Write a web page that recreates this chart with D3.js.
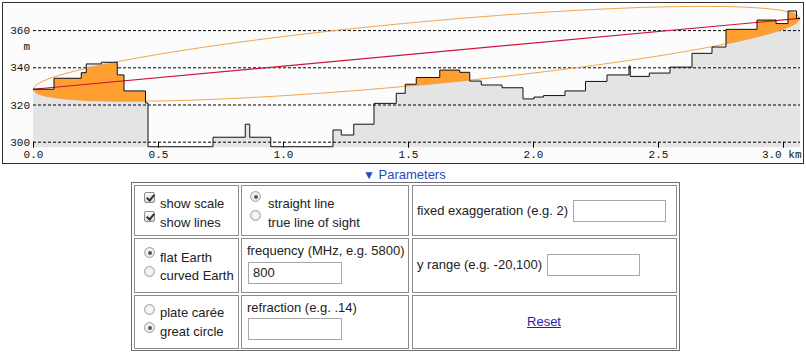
<!DOCTYPE html>
<html>
<head>
<meta charset="utf-8">
<script src="https://cdn.jsdelivr.net/npm/d3@7"></script>
<style>
    body { margin: 0; background: #fff; font-family: "Liberation Sans", Arial, sans-serif; font-size: 13px; color: #222; }
    #chart { position: absolute; left: 0; top: 0; }
    .abs { position: absolute; line-height: 13px; white-space: nowrap; }
    .box { position: absolute; box-sizing: border-box; }
    .outer { border: 1px solid #6f6f6f; }
    .cell { border: 1px solid #8c8c8c; }
    .inp { border: 1px solid #a8a8a8; background: #fff; padding-left: 4px; line-height: 19px; }
    .cb { position: absolute; box-sizing: border-box; width: 11px; height: 11px; border: 1px solid #8e8e8e; border-radius: 2px;
          background: linear-gradient(#fbfbfb, #dadada); }
    .cb::after { content: ""; position: absolute; left: 3px; top: 0px; width: 3px; height: 6px;
          border: solid #333; border-width: 0 2px 2px 0; transform: rotate(40deg); }
    .rd { position: absolute; box-sizing: border-box; width: 11px; height: 11px; border: 1px solid #a4a4a4; border-radius: 50%;
          background: radial-gradient(#f6f6f6 35%, #d6d6d6); }
    .rd.on::after { content: ""; position: absolute; left: 2.5px; top: 2.5px; width: 4px; height: 4px; border-radius: 50%;
          background: #555; }
    .link { color: #2b47c4; }
    .reset { color: #1f1fa8; text-decoration: underline; }
</style>
</head>
<body>
<svg id="chart" width="806" height="166"></svg>
<div id="form"></div>
<script>
// terrain profile, step segments: start distance (km) and elevation (m)
const distKm = [0.000, 0.084, 0.193, 0.213, 0.273, 0.337, 0.364, 0.450, 0.460, 0.720,
                0.849, 0.867, 0.951, 1.200, 1.233, 1.283, 1.364, 1.453, 1.489, 1.533,
                1.627, 1.707, 1.747, 1.793, 1.876, 1.960, 2.004, 2.042, 2.128, 2.210,
                2.296, 2.384, 2.389, 2.465, 2.548, 2.636, 2.716, 2.772, 2.896, 2.972,
                3.020, 3.054];
const elevM = [328.2, 334.1, 337.1, 341.8, 342.7, 335.9, 327.3, 320.8, 297.3, 302.4,
               309.4, 302.4, 297.3, 306.3, 303.6, 309.4, 320.6, 326.0, 330.9, 334.5,
               338.5, 337.3, 332.6, 330.5, 329.0, 323.0, 324.0, 324.8, 327.3, 332.4,
               335.9, 340.7, 335.1, 336.9, 340.1, 347.5, 350.9, 360.4, 365.4, 363.5,
               370.3, 366.3];
const totalKm = 3.068;
const startElev = 328.2;
const endElev = 366.3;
const freqMHz = 800;
const xTicks = [0, 0.5, 1.0, 1.5, 2.0, 2.5, 3.0];
const yTicks = [300, 320, 340, 360];
const yBottom = 297;

const svg = d3.select("#chart");

// box
svg.append("rect")
    .attr("x", 2.5).attr("y", 2.5)
    .attr("width", 801).attr("height", 161)
    .attr("fill", "#fcfcfc")
    .attr("stroke", "#333");

const x = d3.scaleLinear().domain([0, totalKm]).range([33, 800]);
const y = d3.scaleLinear().domain([300, 360]).range([141.7, 30.1]);

let profile = distKm.map((d, i) => ({ d: d, h: elevM[i] }));
profile.push({ d: totalKm, h: elevM[elevM.length - 1] });

const area = d3.area()
    .x(d => x(d.d))
    .y0(y(yBottom))
    .y1(d => y(d.h))
    .curve(d3.curveStepAfter);

const line = d3.line()
    .x(d => x(d.d))
    .y(d => y(d.h))
    .curve(d3.curveStepAfter);

// grey ground
svg.append("path")
    .datum(profile)
    .attr("d", area)
    .attr("fill", "#e4e4e4");

// gridlines + y labels
const yAxis = svg.append("g")
    .attr("transform", "translate(33,0)")
    .call(d3.axisLeft(y).tickValues(yTicks).tickSize(-(x.range()[1] - x.range()[0])).tickPadding(3));
yAxis.select(".domain").remove();
yAxis.selectAll("line")
    .attr("stroke", "#000")
    .attr("stroke-dasharray", "3,2");
yAxis.selectAll("text")
    .attr("font-family", "Liberation Mono, monospace")
    .attr("font-size", 11)
    .attr("fill", "#111");

svg.append("text")
    .attr("x", 30).attr("y", 50)
    .attr("text-anchor", "end")
    .attr("font-family", "Liberation Mono, monospace")
    .attr("font-size", 11)
    .attr("fill", "#111")
    .text("m");

// fresnel zone (first zone, from frequency)
const lambda = 299.792458 / freqMHz;
const Dm = totalKm * 1000;
const samples = d3.range(0, 241).map(i => i / 240 * totalKm);
const zone = samples.map(d => {
    const d1 = d * 1000, d2 = Math.max(Dm - d1, 0);
    const r = Math.sqrt(lambda * d1 * d2 / Dm);
    const c = startElev + (endElev - startElev) * d / totalKm;
    return { d: d, up: c + r, lo: c - r };
});
const ellipsePts = zone.map(z => [x(z.d), y(z.up)])
    .concat(zone.slice().reverse().map(z => [x(z.d), y(z.lo)]));
const ellipsePath = "M" + ellipsePts.map(p => p.join(",")).join("L") + "Z";

svg.append("clipPath").attr("id", "fresnelClip")
    .append("path").attr("d", ellipsePath);

// ground inside the zone
svg.append("path")
    .datum(profile)
    .attr("d", area)
    .attr("fill", "#ff9f30")
    .attr("clip-path", "url(#fresnelClip)");

svg.append("path")
    .attr("d", ellipsePath)
    .attr("fill", "none")
    .attr("stroke", "#f2a24a")
    .attr("stroke-width", 1);

// straight line of sight
svg.append("path")
    .datum([{ d: 0, h: startElev }, { d: totalKm, h: endElev }])
    .attr("d", d3.line().x(d => x(d.d)).y(d => y(d.h)))
    .attr("fill", "none")
    .attr("stroke", "#d0143a")
    .attr("stroke-width", 1.1);

// terrain outline
svg.append("path")
    .datum(profile)
    .attr("d", line)
    .attr("fill", "none")
    .attr("stroke", "#111")
    .attr("stroke-width", 1);

// x axis
const xAxis = svg.append("g")
    .attr("transform", `translate(0,${y(300)})`)
    .call(d3.axisBottom(x).tickValues(xTicks).tickFormat(d3.format(".1f")).tickSize(6).tickPadding(3));
xAxis.select(".domain").remove();
xAxis.selectAll("line").attr("stroke", "#000");
xAxis.selectAll("text")
    .attr("font-family", "Liberation Mono, monospace")
    .attr("font-size", 11)
    .attr("fill", "#111");
xAxis.selectAll(".tick").filter(d => d === 3.0).select("text")
    .attr("text-anchor", "end")
    .attr("x", 801 - x(3.0))
    .text("3.0 km");

// ---- parameters form ----
const form = d3.select("#form");

form.append("div").attr("class", "abs link").style("left", "363px").style("top", "168px")
    .html('<span style="font-size:12px">&#9660;</span> Parameters');

form.append("div").attr("class", "box outer")
    .style("left", "131px").style("top", "182px")
    .style("width", "549px").style("height", "169px");

const colX = [134, 241, 412], colW = [105, 168, 265];
const rowY = [185, 238, 295], rowH = [51, 55, 54];
rowY.forEach((ry, r) => colX.forEach((cx, c) => {
    form.append("div").attr("class", "box cell")
        .style("left", cx + "px").style("top", ry + "px")
        .style("width", colW[c] + "px").style("height", rowH[r] + "px");
}));

const labels = [
    ["show scale", 160, 197], ["show lines", 160, 216],
    ["straight line", 268, 197], ["true line of sight", 268, 216],
    ["fixed exaggeration (e.g. 2)", 417, 204],
    ["flat Earth", 160, 251], ["curved Earth", 160, 269],
    ["frequency (MHz, e.g. 5800)", 247, 244],
    ["y range (e.g. -20,100)", 417, 258],
    ["plate carée", 160, 306], ["great circle", 160, 325],
    ["refraction (e.g. .14)", 247, 301]
];
labels.forEach(l => {
    form.append("div").attr("class", "abs")
        .style("left", l[1] + "px").style("top", l[2] + "px")
        .text(l[0]);
});

// checkboxes and radios: [type, x, y, checked]
const controls = [
    ["cb", 144, 192, true], ["cb", 144, 211, true],
    ["rd", 250, 191, true], ["rd", 250, 210, false],
    ["rd", 144, 247, true], ["rd", 144, 266, false],
    ["rd", 144, 304, false], ["rd", 144, 322, true]
];
controls.forEach(c => {
    form.append("div").attr("class", c[0] + (c[3] ? " on" : ""))
        .style("left", c[1] + "px").style("top", c[2] + "px");
});

// text inputs: [x, y, w, h, value]
const inputs = [
    [573, 200, 93, 22, ""], [248, 262, 94, 22, "800"],
    [547, 254, 93, 22, ""], [248, 318, 94, 22, ""]
];
inputs.forEach(b => {
    form.append("div").attr("class", "box inp")
        .style("left", b[0] + "px").style("top", b[1] + "px")
        .style("width", b[2] + "px").style("height", b[3] + "px")
        .text(b[4]);
});

form.append("div").attr("class", "abs reset")
    .style("left", "544px").style("top", "315px")
    .style("transform", "translateX(-50%)")
    .text("Reset");
</script>
</body>
</html>
